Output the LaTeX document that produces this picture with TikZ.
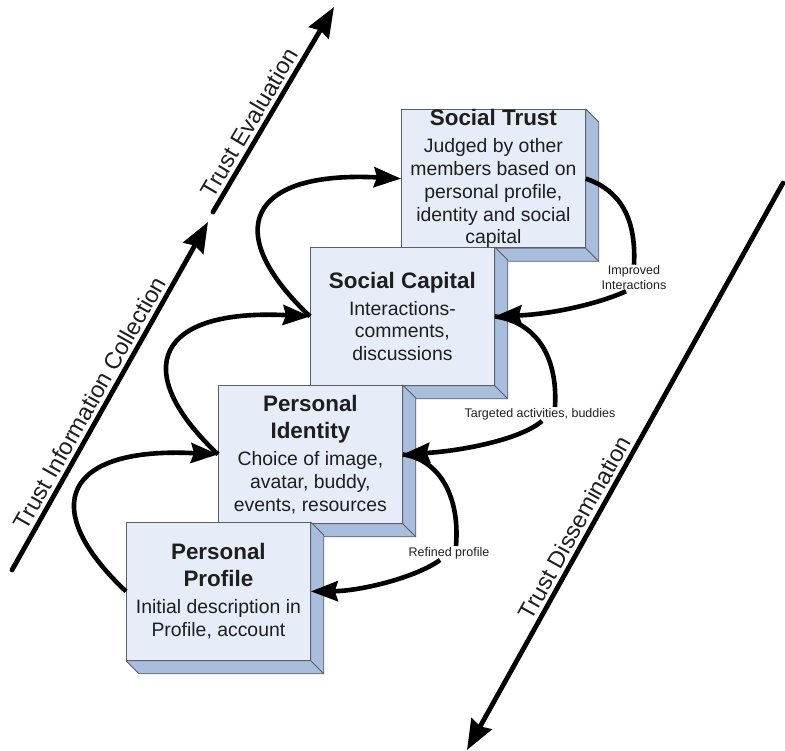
\documentclass[tikz,border=0pt]{standalone}
\usepackage{fontspec}
\setmainfont{Liberation Sans}
\usetikzlibrary{arrows.meta,positioning}
\definecolor{face}{HTML}{E6EDF8}
\definecolor{side}{HTML}{A9BEDD}
\definecolor{edge}{HTML}{5A5E66}
\definecolor{ink}{HTML}{1E1E1E}
\newcommand{\boxtitle}[1]{{\fontsize{22.4}{27}\selectfont\bfseries #1}}
\tikzset{
  stagebox/.style={draw=edge, fill=face, line width=0.8pt, anchor=north west,
                   minimum width=184pt, minimum height=138pt, inner xsep=3pt,
                   inner ysep=0pt, align=center, text=ink,
                   font=\fontsize{19.4}{22.8}\selectfont},
  bevel/.style={draw=edge, fill=side, line width=0.8pt, line join=round},
  flow/.style={line width=4.6pt, draw=black},
  flowtip/.style={flow, -{Stealth[length=27pt, width=20pt, inset=3pt]}},
  trend/.style={line width=4.8pt, line cap=round,
                -{Stealth[length=30pt, width=23pt, inset=3pt]}},
  trendlabel/.style={font=\fontsize{23.4}{28}\selectfont, text=ink, sloped, above},
  note/.style={font=\fontsize{12.5}{15}\selectfont, text=ink, align=center,
               inner sep=1pt}
}

\begin{document}
\begin{tikzpicture}[x=1pt,y=1pt]
  \useasboundingbox (0,0) rectangle (785,-751);

  % stages, drawn back to front
  \node[stagebox] (st) at (401,-109) {\boxtitle{Social Trust}\\[4.2pt]Judged by other\\members based on\\personal profile,\\identity and social\\capital};
  \draw[bevel] (st.south west) -- (st.south east) -- (st.north east) -- ++(13,-13) |- ([shift={(13,-13)}]st.south west) -- cycle;
  \draw[bevel] (st.south east) -- ++(13,-13);

  \node[stagebox] (sc) at (310,-247) {\boxtitle{Social Capital}\\[4.2pt]Interactions-\\comments,\\discussions};
  \draw[bevel] (sc.south west) -- (sc.south east) -- (sc.north east) -- ++(13,-13) |- ([shift={(13,-13)}]sc.south west) -- cycle;
  \draw[bevel] (sc.south east) -- ++(13,-13);

  \node[stagebox] (pi) at (218,-385) {\boxtitle{Personal}\\[4.2pt]\boxtitle{Identity}\\[4.2pt]Choice of image,\\avatar, buddy,\\events, resources};
  \draw[bevel] (pi.south west) -- (pi.south east) -- (pi.north east) -- ++(13,-13) |- ([shift={(13,-13)}]pi.south west) -- cycle;
  \draw[bevel] (pi.south east) -- ++(13,-13);

  \node[stagebox] (pp) at (126,-522) {\boxtitle{Personal}\\[4.2pt]\boxtitle{Profile}\\[4.2pt]Initial description in\\Profile, account};
  \draw[bevel] (pp.south west) -- (pp.south east) -- (pp.north east) -- ++(13,-13) |- ([shift={(13,-13)}]pp.south west) -- cycle;
  \draw[bevel] (pp.south east) -- ++(13,-13);

  % upward loops on the left
  \draw[flowtip] (pp.west) .. controls +(-90,85) and +(-153,8) .. (pi.west);
  \draw[flowtip] (pi.west) .. controls +(-90,85) and +(-153,8) .. (sc.west);
  \draw[flowtip] (sc.west) .. controls +(-90,85) and +(-153,8) .. (st.west);

  % feedback loops on the right
  \node[note] (imp) at (634,-278) {Improved\\Interactions};
  \node[note] (tab) at (540,-414) {Targeted activities, buddies};
  \node[note] (ref) at (449,-553) {Refined profile};
  \draw[flow] (st.east) .. controls (625,-192) and (636,-225) .. (imp.north);
  \draw[flowtip] ([xshift=-8pt]imp.south) .. controls (600,-303) and (555,-314) .. (sc.east);
  \draw[flow] (sc.east) .. controls (535,-322) and (558,-355) .. ([xshift=15pt]tab.north);
  \draw[flowtip] ([xshift=2pt]tab.south) .. controls (520,-440) and (460,-451) .. (pi.east);
  \draw[flow] (pi.east) .. controls (440,-460) and (460,-497) .. ([xshift=7pt]ref.north);
  \draw[flowtip] ([xshift=-9pt]ref.south) .. controls (415,-578) and (360,-591) .. (pp.east);

  % phase arrows
  \coordinate (ticA) at (12,-570);
  \coordinate (ticB) at (208,-222);
  \coordinate (evA) at (213,-212);
  \coordinate (evB) at (334,-7);
  \coordinate (dsA) at (783,-183);
  \coordinate (dsB) at (467,-750);
  \draw[trend] (ticA) -- (ticB) node[trendlabel, pos=0.46] (ticlab) {Trust Information Collection};
  \draw[trend] (evA) -- (evB) node[trendlabel, pos=0.4] (evlab) {Trust Evaluation};
  \draw[trend] (dsA) -- (dsB) node[trendlabel, pos=0.62] (dslab) {Trust Dissemination};
\end{tikzpicture}
\end{document}
